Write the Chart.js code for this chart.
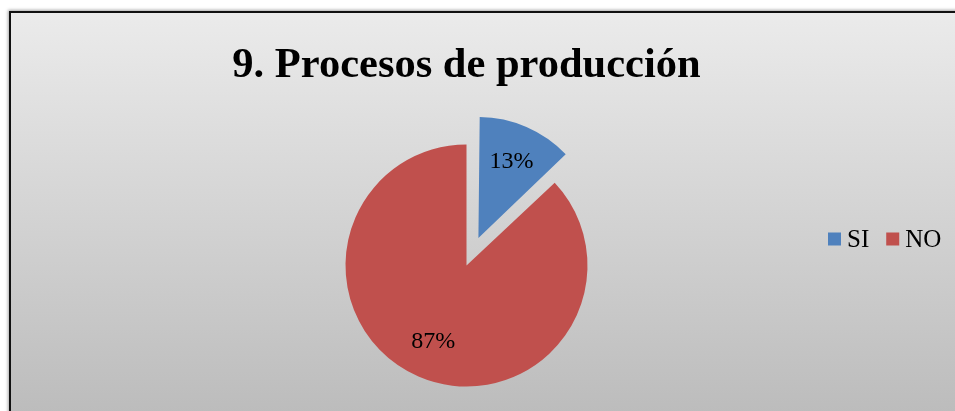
<!DOCTYPE html>
<html>
<head>
<meta charset="utf-8">
<title>9. Procesos de producción</title>
<script src="https://cdn.jsdelivr.net/npm/chart.js@4.4.1/dist/chart.umd.min.js"></script>
<style>
  html, body { margin: 0; padding: 0; width: 955px; height: 411px; overflow: hidden; background: #fff; }
  #frame {
    position: absolute; left: 9px; top: 11px; width: 1100px; height: 480px;
    box-sizing: border-box; border-left: 2px solid #111; border-top: 2px solid #111;
    background: linear-gradient(to bottom, #ebebeb 0px, #bcbcbc 400px, #b6b6b6 480px);
    box-shadow: -1px -1px 3px rgba(0, 0, 0, 0.35);
  }
  #wrap { position: absolute; left: 0; top: 0; width: 955px; height: 470px; }
</style>
</head>
<body>
<div id="frame"></div>
<div id="wrap"><canvas id="pieChart"></canvas></div>
<script>
const categories = ['SI', 'NO'];
const percentages = [13, 87];
const sliceColors = ['#4f81bd', '#c0504d'];

const serif = "'Liberation Serif', 'Times New Roman', serif";

// Chart.js moves an offset arc by offset/4 but also grows its radius a bit;
// keep every slice at the pie's radius so the pulled-out one is not larger
const keepRadius = {
  id: 'keepRadius',
  beforeDatasetsDraw(chart) {
    const meta = chart.getDatasetMeta(0);
    const full = meta.controller.outerRadius;
    meta.data.forEach(arc => {
      const shift = (arc.options.offset || 0) / 4;
      const fix = 1 - Math.sin(Math.min(Math.PI, arc.circumference));
      arc.outerRadius = full - shift * fix;
    });
  }
};

// percentage text inside each slice, placed along the slice's middle angle
const sliceLabels = {
  id: 'sliceLabels',
  afterDatasetsDraw(chart) {
    const { ctx } = chart;
    const meta = chart.getDatasetMeta(0);
    const full = meta.controller.outerRadius;
    ctx.save();
    ctx.font = '24px ' + serif;
    ctx.fillStyle = '#000';
    ctx.textAlign = 'center';
    ctx.textBaseline = 'middle';
    meta.data.forEach((arc, i) => {
      const { x, y, startAngle, endAngle } = arc.getProps(['x', 'y', 'startAngle', 'endAngle'], true);
      const mid = (startAngle + endAngle) / 2;
      const r = full * 0.69 + (arc.options.offset || 0) / 4;
      ctx.fillText(percentages[i] + '%', x + Math.cos(mid) * r, y + Math.sin(mid) * r);
    });
    ctx.restore();
  }
};

// one-row legend on the right side
const sideLegend = {
  id: 'sideLegend',
  afterDraw(chart) {
    const { ctx } = chart;
    const y = 239, box = 13;
    let x = 828;
    ctx.save();
    ctx.font = '25px ' + serif;
    ctx.textBaseline = 'middle';
    categories.forEach((name, i) => {
      ctx.fillStyle = sliceColors[i];
      ctx.fillRect(x, y - box / 2, box, box);
      x += box + 6;
      ctx.fillStyle = '#000';
      ctx.fillText(name, x, y + 1);
      x += ctx.measureText(name).width + 17;
    });
    ctx.restore();
  }
};

new Chart(document.getElementById('pieChart'), {
  type: 'pie',
  data: {
    labels: categories,
    datasets: [{
      data: percentages,
      backgroundColor: sliceColors,
      borderWidth: 0,
      offset: [120, 0],
      radius: 121
    }]
  },
  options: {
    responsive: true,
    maintainAspectRatio: false,
    animation: false,
    layout: { padding: { top: 10, left: 10, right: 32, bottom: 41 } },
    plugins: {
      legend: { display: false },
      tooltip: { enabled: false },
      title: {
        display: true,
        text: '9. Procesos de producción',
        color: '#000',
        font: { family: serif, size: 42.5, weight: 'bold', lineHeight: 1.2 },
        padding: { top: 31, bottom: 10 }
      }
    }
  },
  plugins: [keepRadius, sliceLabels, sideLegend]
});
</script>
</body>
</html>
